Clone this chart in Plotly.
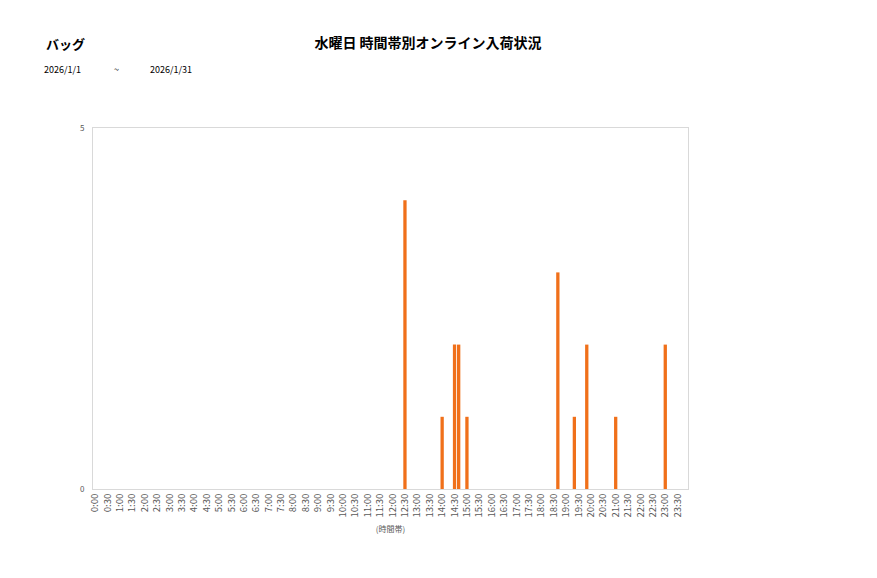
import plotly.graph_objects as go

# 10-minute time slots for the whole day
time_slots = [f"{h}:{m:02d}" for h in range(24) for m in range(0, 60, 10)]
tick_labels = [f"{h}:{m:02d}" for h in range(24) for m in (0, 30)]

# non-zero arrivals
arrival_times = ["12:30", "14:00", "14:30", "14:40", "15:00", "18:40", "19:20", "19:50", "21:00", "23:00"]
arrival_counts = [4, 1, 2, 2, 1, 3, 1, 2, 1, 2]

counts_by_slot = dict(zip(arrival_times, arrival_counts))
values = [counts_by_slot.get(t, 0) for t in time_slots]

OFF = 8  # page body margin
W, H = 877 - OFF, 578 - OFF
L, R, T, B = 93 - OFF, 688 - OFF, 128 - OFF, 489 - OFF

FONT = "Noto Sans CJK JP"

fig = go.Figure()
fig.add_trace(go.Bar(
    x=time_slots, y=values,
    marker=dict(color="#F0701A", line=dict(width=0)),
))

def px_x(px):
    return (px - OFF - L) / (R - L)

def px_y(py):
    return (B - (py - OFF)) / (B - T)

fig.update_layout(
    width=W, height=H,
    margin=dict(l=L, r=W - R, t=T, b=H - B),
    paper_bgcolor="white", plot_bgcolor="white",
    bargap=0.2,
    showlegend=False,
    font=dict(family=FONT, color="#595959"),
    title=dict(text="<b>水曜日 時間帯別オンライン入荷状況</b>", x=(428 - OFF) / W, xanchor="center",
               y=1 - (43 - OFF) / H, yanchor="middle",
               font=dict(family=FONT, size=14, color="#000000")),
    xaxis=dict(
        type="category", categoryorder="array", categoryarray=time_slots,
        tickmode="array", tickvals=tick_labels, ticktext=tick_labels,
        tickangle=-90, tickfont=dict(size=9.5, color="#595959"),
        showline=True, linecolor="#d9d9d9", linewidth=1, mirror=True,
        showgrid=False, ticks="", zeroline=False,
        title=dict(text="(時間帯)", font=dict(size=8, color="#595959"), standoff=9),
    ),
    yaxis=dict(
        range=[0, 5], tickmode="array", tickvals=[0, 5], ticktext=["0", "5"],
        tickfont=dict(size=8, color="#595959"),
        showline=True, linecolor="#d9d9d9", linewidth=1, mirror=True,
        showgrid=False, ticks="", zeroline=False, ticklabelstandoff=6,
    ),
)

fig.add_annotation(text="<b>バッグ</b>", xref="paper", yref="paper", x=px_x(44), y=px_y(43),
                   xanchor="left", yanchor="middle", showarrow=False,
                   font=dict(family=FONT, size=13, color="#000000"))
fig.add_annotation(text="2026/1/1", xref="paper", yref="paper", x=px_x(42), y=px_y(70),
                   xanchor="left", yanchor="middle", showarrow=False,
                   font=dict(family=FONT, size=9, color="#000000"))
fig.add_annotation(text="~", xref="paper", yref="paper", x=px_x(116), y=px_y(70),
                   xanchor="center", yanchor="middle", showarrow=False,
                   font=dict(family=FONT, size=9, color="#000000"))
fig.add_annotation(text="2026/1/31", xref="paper", yref="paper", x=px_x(148), y=px_y(70),
                   xanchor="left", yanchor="middle", showarrow=False,
                   font=dict(family=FONT, size=9, color="#000000"))

fig.write_html("out.html")
